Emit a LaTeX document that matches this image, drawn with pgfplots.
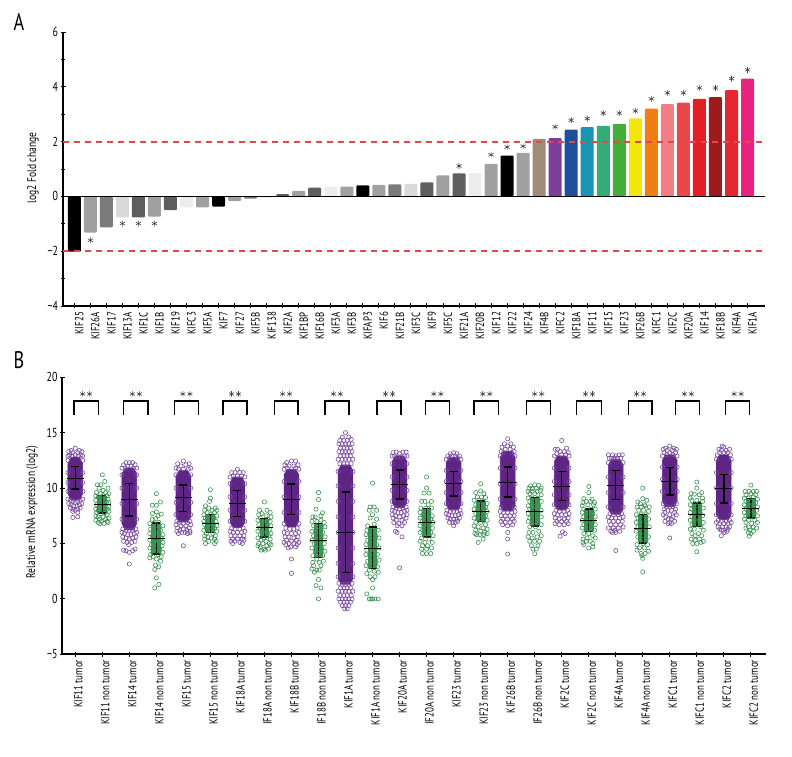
\documentclass[border=0pt]{standalone}
\usepackage{fontspec}
\setmainfont{PT Sans}[FakeStretch=0.76]
\usepackage{pgfplots}
\usepackage{pgfplotstable}
\pgfplotsset{compat=1.18}
\definecolor{gA}{HTML}{000000}\definecolor{gB}{HTML}{A0A0A0}\definecolor{gC}{HTML}{7A7A7A}
\definecolor{gD}{HTML}{D9D9D9}\definecolor{gE}{HTML}{5E5E5E}\definecolor{gF}{HTML}{ECECEC}
\definecolor{cT}{HTML}{A08A78}\definecolor{cU}{HTML}{7B3F98}\definecolor{cV}{HTML}{1F4E9C}
\definecolor{cW}{HTML}{1A94B4}\definecolor{cX}{HTML}{33AD76}\definecolor{cY}{HTML}{43AD3A}
\definecolor{cZ}{HTML}{F2E60C}\definecolor{cA}{HTML}{F07E14}\definecolor{cB}{HTML}{F07F85}
\definecolor{cC}{HTML}{E9474A}\definecolor{cD}{HTML}{E31E26}\definecolor{cE}{HTML}{9C1A1C}
\definecolor{cF}{HTML}{E5282F}\definecolor{cG}{HTML}{E8237F}
\definecolor{redline}{HTML}{DD4A4E}\definecolor{pur}{HTML}{5F2585}\definecolor{ped}{HTML}{7A4A9F}
\definecolor{gre}{HTML}{2F8C47}\definecolor{gco}{HTML}{3F9A57}
\newcommand\bb[3]{\addplot[ybar,bar width=13pt,bar shift=0pt,fill=#3,draw=none,rounded corners=1pt] coordinates {(#1,#2)};}
\newcommand\T[2]{\addplot[only marks,mark=o,mark size=2.1pt,mark options={draw=ped,line width=.6pt,fill=none}] table[x expr=\thisrowno{0}/33+#1,y index=1,row sep=\\]{#2};}
\newcommand\G[2]{\addplot[only marks,mark=o,mark size=2.1pt,mark options={draw=gre,line width=.55pt,fill=none}] table[x expr=\thisrowno{0}/33+#1,y index=1,row sep=\\]{#2};}
\newcommand\core[5]{\addplot[fill=pur,draw=pur,line width=.6pt] table[x expr=\thisrowno{0}/33+#1,y index=1,row sep=\\]{-5 #2\\-9 #3\\-9 #4\\-5 #5\\5 #5\\9 #4\\9 #3\\5 #2\\};}
\newcommand\gc[3]{\addplot[fill=gco,draw=none] table[x expr=\thisrowno{0}/33+#1,y index=1,row sep=\\]{-6 #2\\-6 #3\\6 #3\\6 #2\\};}
\newcommand\br[2]{\addplot[black,line width=1.3pt,line join=miter] coordinates {(#1,16.57)(#1,17.86)(#2,17.86)(#2,16.57)};}
\pgfplotstableread{
x m u l
0 10.9 11.95 9.9
1 8.5 9.35 7.75
2 8.95 10.4 7.5
3 5.45 6.85 4.05
4 9.15 10.3 7.9
5 6.8 7.6 6.0
6 8.6 9.8 7.45
7 6.45 7.25 5.6
8 9.0 10.35 7.6
9 5.27 6.81 3.74
10 6.0 9.64 2.38
11 4.55 6.48 2.75
12 10.33 11.65 9.0
13 6.87 8.17 5.6
14 10.4 11.5 9.3
15 7.92 8.83 7.0
16 10.55 11.9 9.2
17 7.9 9.16 6.57
18 10.18 11.5 8.9
19 7.08 8.13 6.09
20 10.27 11.57 8.98
21 6.36 7.6 5.06
22 10.6 11.84 9.37
23 7.63 8.67 6.54
24 9.97 11.24 8.67
25 8.17 9.07 7.3
}\stats
\pgfplotsset{every axis/.append style={scale only axis,tick style={black,line width=.9pt},
  tick align=outside,clip=false,
  yticklabel style={font=\fontsize{13}{13}\selectfont,xshift=1pt},
  xticklabel style={rotate=90,anchor=east,font=\fontsize{11.8}{11.8}\selectfont}}}
\begin{document}
\begin{tikzpicture}[x=1pt,y=1pt]
\path[use as bounding box] (0,0) rectangle (792,756);
\node[font=\fontsize{24}{24}\selectfont] at (19,734) {A};
\node[font=\fontsize{24}{24}\selectfont] at (19,396) {B};
\node[rotate=90,font=\fontsize{12.5}{12.5}\selectfont] at (33,588) {log2 Fold change};
\node[rotate=90,font=\fontsize{12.5}{12.5}\selectfont] at (32,244) {Relative mRNA expression (log2)};
% Panel A
\begin{axis}[at={(63pt,450pt)},anchor=south west,width=702pt,height=274pt,
  axis x line=bottom,axis y line=left,x axis line style={-,line width=1.2pt},y axis line style={-,line width=1.2pt},
  xmin=-0.705,xmax=43.09,ymin=-4,ymax=6,
  ytick={-4,-2,0,2,4,6},yticklabels={−4,−2,0,2,4,6},minor ytick={-3,-1,1,3,5},
  major tick length=5pt,minor tick length=3.5pt,
  xtick={0,...,42},xticklabels={KIF25,KIF26A,KIF17,KIF13A,KIF1C,KIF1B,KIF19,KIFC3,KIF5A,KIF7,KIF27,KIF5B,KIF138,KIF2A,KIF1BP,KIF16B,KIF3A,KIF3B,KIFAP3,KIF6,KIF21B,KIF3C,KIF9,KIF5C,KIF21A,KIF20B,KIF12,KIF22,KIF24,KIF4B,KIFC2,KIF18A,KIF11,KIF15,KIF23,KIF26B,KIFC1,KIF2C,KIF20A,KIF14,KIF18B,KIF4A,KIF1A},
  x tick label style={yshift=-5pt}]
\bb{0}{-2.02}{gA}\bb{1}{-1.32}{gB}\bb{2}{-1.13}{gC}\bb{3}{-0.77}{gD}\bb{4}{-0.77}{gE}\bb{5}{-0.74}{gB}\bb{6}{-0.5}{gE}\bb{7}{-0.4}{gF}\bb{8}{-0.4}{gB}\bb{9}{-0.37}{gA}\bb{10}{-0.17}{gB}\bb{11}{-0.08}{gC}\bb{12}{-0.04}{gD}
\bb{13}{0.08}{gE}\bb{14}{0.2}{gB}\bb{15}{0.32}{gE}\bb{16}{0.36}{gF}\bb{17}{0.36}{gB}\bb{18}{0.4}{gA}\bb{19}{0.42}{gB}\bb{20}{0.44}{gC}\bb{21}{0.46}{gD}\bb{22}{0.51}{gE}\bb{23}{0.77}{gB}\bb{24}{0.84}{gE}\bb{25}{0.85}{gF}\bb{26}{1.19}{gB}\bb{27}{1.49}{gA}\bb{28}{1.59}{gB}
\bb{29}{2.1}{cT}\bb{30}{2.13}{cU}\bb{31}{2.44}{cV}\bb{32}{2.53}{cW}\bb{33}{2.57}{cX}\bb{34}{2.65}{cY}\bb{35}{2.85}{cZ}\bb{36}{3.2}{cA}\bb{37}{3.37}{cB}\bb{38}{3.42}{cC}\bb{39}{3.56}{cD}\bb{40}{3.62}{cE}\bb{41}{3.88}{cF}\bb{42}{4.3}{cG}
\addplot[black,line width=1pt] coordinates {(-0.705,0)(43.09,0)};
\addplot[color=redline,line width=2pt,dash pattern=on 6pt off 5pt] coordinates {(-0.705,-2)(42.9,-2)};
\addplot[color=redline,line width=2pt,dash pattern=on 6pt off 5pt] coordinates {(-0.705,2)(42.9,2)};
\addplot[only marks,mark=asterisk,mark size=3pt,mark options={gE!70!black,line width=.6pt}] coordinates {(1,-1.6)(3,-0.99)(4,-0.99)(5,-0.99)(24,1.11)(26,1.52)(27,1.8)(28,1.83)(30,2.54)(31,2.78)(32,2.84)(33,3.04)(34,3.04)(35,3.12)(36,3.56)(37,3.78)(38,3.78)(39,3.96)(40,3.96)(41,4.3)(42,4.62)};
\end{axis}
% Panel B
\begin{axis}[at={(62.3pt,101.7pt)},anchor=south west,width=703.4pt,height=277pt,
  axis x line=bottom,axis y line=left,x axis line style={-,line width=1.7pt},y axis line style={-,line width=1.7pt},
  xmin=-0.481,xmax=25.55,ymin=-5,ymax=20,
  ytick={-5,0,5,10,15,20},yticklabels={−5,0,5,10,15,20},
  major tick length=4.5pt,
  xtick={0,...,25},xticklabels={KIF11 tumor,KIF11 non tumor,KIF14 tumor,KIF14 non tumor,KIF15 tumor,KIF15 non tumor,KIF18A tumor,IF18A non tumor,KIF18B tumor,IF18B non tumor,KIF1A tumor,KIF1A non tumor,KIF20A tumor,IF20A non tumor,KIF23 tumor,KIF23 non tumor,KIF26B tumor,IF26B non tumor,KIF2C tumor,KIF2C non tumor,KIF4A tumor,KIF4A non tumor,KIFC1 tumor,KIFC1 non tumor,KIFC2 tumor,KIFC2 non tumor},
  x tick label style={yshift=-3pt}]
\br{-0.05}{0.85}\br{1.79}{2.69}\br{3.66}{4.55}\br{5.47}{6.35}\br{7.36}{8.24}\br{9.24}{10.13}\br{11.17}{12.05}\br{12.95}{13.84}\br{14.75}{15.67}\br{16.69}{17.58}\br{18.56}{19.47}\br{20.47}{21.34}\br{22.22}{23.11}\br{24.07}{24.94}
\addplot[only marks,mark=asterisk,mark size=2.8pt,mark options={gE!70!black,line width=.6pt}] coordinates {(0.27,18.5)(0.53,18.5)(2.11,18.5)(2.37,18.5)(3.98,18.5)(4.24,18.5)(5.78,18.5)(6.04,18.5)(7.67,18.5)(7.93,18.5)(9.55,18.5)(9.81,18.5)(11.48,18.5)(11.74,18.5)(13.27,18.5)(13.53,18.5)(15.08,18.5)(15.34,18.5)(17.0,18.5)(17.26,18.5)(18.88,18.5)(19.14,18.5)(20.77,18.5)(21.03,18.5)(22.54,18.5)(22.8,18.5)(24.38,18.5)(24.64,18.5)};
% tumor columns: core and visible outer points
\core{0}{8.9}{9.5}{12.2}{12.8}
\T{0}{0 13.6\\-5 13.4\\5 13.4\\-8 13.3\\8 13.3\\-3 13.2\\3 13.2\\-7 13\\7 13\\-9 12.9\\9 12.9\\-4 12.9\\4 12.9\\0 13\\-9 12.5\\9 12.5\\-9 11.4\\9 11.4\\-9 10.5\\9 10.5\\-9 9.7\\9 9.7\\-9 9\\9 9\\-6 8.9\\6 8.9\\-3 8.8\\3 8.8\\0 8.7\\-8 8.6\\8 8.6\\-5 8.5\\5 8.5\\-2 8.4\\2 8.4\\-6 8.2\\6 8.2\\-3 8.1\\3 8.1\\0 8\\-3 7.9\\3 7.8\\-3 7.35\\3 7.4\\}
\core{2}{6.2}{6.8}{11.3}{11.8}
\T{2}{-4 12.3\\0 12.3\\4 12.3\\-7 12.1\\7 12.1\\-2 12\\2 12\\-9 11.8\\9 11.8\\-5 11.8\\5 11.8\\-9 11.2\\9 11.2\\-9 10\\9 10\\-9 8.6\\9 8.6\\-9 7.2\\9 7.2\\-8 6.3\\8 6.3\\-4 6.2\\4 6.2\\0 6.2\\-9 6\\9 6\\-6 5.9\\6 5.9\\-2 5.8\\2 5.8\\-8 5.6\\8 5.6\\-4 5.5\\4 5.5\\0 5.4\\-7 5.2\\7 5.2\\-3 5.1\\3 5.1\\-1 4.9\\-7 4.4\\-4 4.35\\0 4.2\\4 4.35\\7 4.5\\0 3.15\\}
\core{4}{6.9}{7.4}{11.1}{11.6}
\T{4}{0 12.45\\-7 12.2\\7 12.2\\-3 12\\3 12.1\\-9 11.8\\9 11.8\\-6 11.7\\0 11.7\\6 11.7\\-9 11.2\\9 11.2\\-9 10\\9 10\\-9 8.7\\9 8.7\\-9 7.6\\9 7.6\\-8 7\\8 7\\-5 6.9\\0 6.8\\5 6.9\\-9 6.7\\9 6.7\\-3 6.6\\3 6.6\\-7 6.4\\7 6.4\\0 6.3\\-4 6.2\\4 6.2\\-8 6.1\\8 6.1\\-2 6\\2 6\\-6 5.9\\5 5.9\\8 5.95\\0 4.8\\}
\core{6}{6.4}{6.9}{10.5}{11}
\T{6}{0 11.7\\-7 11.4\\-3 11.4\\3 11.4\\7 11.4\\-9 11\\9 11\\-5 11.1\\5 11.1\\0 11.1\\-9 10.4\\9 10.4\\-9 9.2\\9 9.2\\-9 8\\9 8\\-9 7\\9 7\\-7 6.4\\7 6.4\\-3 6.3\\3 6.3\\-9 6.1\\9 6.1\\-5 6\\0 6\\5 6\\-8 5.7\\8 5.7\\-3 5.7\\3 5.7\\-6 5.4\\0 5.4\\6 5.4\\-8 5.2\\-3 5.2\\3 5.1\\8 5.3\\-6 5\\6 5\\}
\core{8}{6.5}{7}{11.2}{11.7}
\T{8}{-6 12.3\\0 12.45\\5 12.45\\-8 12.1\\8 12.1\\-3 12\\3 12\\-9 11.7\\9 11.7\\-5 11.8\\5 11.8\\-9 10.6\\9 10.6\\-9 9.2\\9 9.2\\-9 7.8\\9 7.8\\-9 6.8\\9 6.8\\-7 6.4\\7 6.4\\-2 6.3\\3 6.3\\-9 6\\9 6\\-5 5.9\\0 5.9\\5 5.9\\-8 5.6\\8 5.6\\-3 5.6\\3 5.5\\-6 5.3\\6 5.3\\0 5.2\\-9 5.1\\9 5.1\\-3 5\\3 5\\-7 4.9\\7 4.9\\-1 4.7\\5 4.7\\-4 4.6\\0 3.6\\0 2.3\\}
\core{10}{1.3}{1.8}{11.6}{12.1}
\T{10}{0 15\\-4 14.6\\4 14.6\\-7 14.3\\-2 14.3\\2 14.3\\7 14.4\\-8 14\\-4 14\\0 14\\4 14\\8 14\\-6 13.6\\-2 13.6\\2 13.6\\6 13.6\\-8 13.3\\-4 13.3\\0 13.3\\4 13.3\\8 13.3\\-6 12.9\\-2 12.9\\2 12.9\\6 12.9\\-9 12.6\\-4 12.6\\0 12.6\\4 12.6\\9 12.6\\-7 12.2\\-2 12.2\\2 12.2\\7 12.2\\-9 11.5\\9 11.5\\-9 10.2\\9 10.2\\-9 8.8\\9 8.8\\-9 7.4\\9 7.4\\-9 6\\9 6\\-9 4.6\\9 4.6\\-9 3.2\\9 3.2\\-9 2\\9 2\\-8 1.4\\-4 1.3\\0 1.3\\4 1.3\\8 1.4\\-6 1\\-2 1\\2 1\\6 1\\-9 .7\\-4 .7\\0 .7\\4 .7\\9 .7\\-7 .3\\-2 .3\\2 .3\\7 .3\\-8 0\\-4 0\\0 0\\4 0\\8 0\\-6 -.3\\-2 -.3\\2 -.3\\6 -.3\\-4 -.6\\0 -.6\\4 -.6\\-1 -.9\\2 -.9\\}
\core{12}{8.2}{8.7}{12.4}{12.9}
\T{12}{-8 13.2\\-4 13.25\\0 13.15\\4 13.25\\8 13.25\\-9 12.9\\-6 12.9\\-2 12.8\\2 12.8\\6 12.9\\9 12.9\\-9 12.2\\9 12.2\\-9 11\\9 11\\-9 9.8\\9 9.8\\-9 8.8\\9 8.8\\-8 8.3\\8 8.3\\-4 8.2\\0 8.1\\4 8.2\\-9 8\\9 8\\-6 7.9\\6 7.9\\-2 7.8\\2 7.8\\-9 7.6\\9 7.6\\-5 7.5\\5 7.5\\-8 7.3\\0 7.4\\8 7.3\\-4 7.1\\3 7.1\\-7 6.9\\-1 6.8\\6 6.9\\-3 6.6\\3 6.6\\-5 6.1\\-3 6\\3 5.6\\0 2.8\\}
\core{14}{8}{8.5}{12.3}{12.8}
\T{14}{0 13.2\\-4 13.1\\4 13.1\\-7 12.9\\7 12.9\\-2 12.9\\2 12.9\\-9 12.6\\-5 12.7\\5 12.7\\9 12.6\\-9 11.6\\9 11.6\\-9 10.6\\9 10.6\\-9 9.6\\9 9.6\\-9 8.6\\9 8.6\\-8 8\\8 8\\-4 7.9\\0 7.9\\4 7.9\\-9 7.7\\9 7.7\\-6 7.6\\6 7.6\\-2 7.5\\2 7.5\\-7 7.3\\7 7.3\\-4 7.2\\0 7.2\\4 7.2\\-5 6.9\\-1 6.9\\2 6.9\\5 7\\0 6.6\\}
\core{16}{7.9}{8.4}{12.8}{13.3}
\T{16}{0 14.45\\-4 14\\4 14\\-7 13.7\\0 13.8\\7 13.7\\-3 13.5\\3 13.5\\-8 13.3\\8 13.3\\-5 13.2\\5 13.2\\-9 12.9\\9 12.9\\-9 11.8\\9 11.8\\-9 10.4\\9 10.4\\-9 9\\9 9\\-8 8.3\\8 8.3\\-9 7.9\\9 7.9\\-5 7.8\\0 7.8\\5 7.8\\-8 7.5\\8 7.5\\-3 7.5\\3 7.5\\-6 7.2\\0 7.2\\6 7.2\\-8 7\\8 7\\-3 6.9\\3 6.9\\-6 6.7\\6 6.7\\0 6.6\\0 6\\0 5.4\\0 4.05\\}
\core{18}{8}{8.5}{12.4}{12.9}
\T{18}{0 14.3\\-8 13.5\\-5 13.5\\6 13.6\\-2 13.3\\3 13.3\\8 13.2\\-6 13.1\\0 13\\5 13\\-9 12.9\\9 12.9\\-9 11.8\\9 11.8\\-9 10.6\\9 10.6\\-9 9.4\\9 9.4\\-9 8.5\\9 8.5\\-7 8\\7 8\\-3 7.9\\3 7.9\\-9 7.7\\9 7.7\\-5 7.6\\0 7.6\\5 7.6\\-8 7.3\\8 7.3\\-3 7.2\\3 7.2\\-6 7\\0 7\\6 7\\-8 6.8\\8 6.8\\-3 6.7\\3 6.7\\1 6.05\\-2 5.66\\4 5.9\\}
\core{20}{7.6}{8.1}{12.1}{12.6}
\T{20}{-9 13\\-4 13\\0 12.9\\4 13\\8 13\\-8 12.7\\-5 12.7\\-2 12.7\\2 12.7\\6 12.7\\-9 12.3\\9 12.3\\-9 11\\9 11\\-9 9.6\\9 9.6\\-9 8.3\\9 8.3\\-7 7.7\\7 7.7\\-3 7.6\\3 7.6\\-9 7.4\\9 7.4\\-5 7.3\\0 7.3\\5 7.3\\-8 7\\8 7\\-3 7\\3 7\\-6 6.7\\0 6.7\\6 6.7\\-9 6.4\\-3 6.4\\3 6.4\\9 6.5\\-6 6.1\\-1 6.2\\5 6.1\\-4 6\\0 6\\0 4.37\\}
\core{22}{8.3}{8.8}{12.5}{13}
\T{22}{-5 13.6\\0 13.8\\5 13.6\\-8 13.5\\8 13.5\\-3 13.4\\3 13.4\\-7 13.2\\0 13.2\\7 13.2\\-9 12.9\\9 12.9\\-4 13\\4 13\\-9 11.9\\9 11.9\\-9 10.8\\9 10.8\\-9 9.7\\9 9.7\\-8 8.6\\8 8.6\\-4 8.3\\0 8.3\\4 8.3\\-7 8.1\\7 8.1\\-2 8\\2 8\\-6 7.8\\6 7.8\\-8 7.6\\0 7.6\\8 7.6\\-5 7.4\\4 7.4\\-2 7.2\\2 7.2\\-6 7\\6 7\\-2 6.8\\2 6.8\\0 6.9\\0 5.5\\}
\core{24}{7.1}{7.6}{12.5}{13}
\T{24}{-2 13.8\\0 13.7\\-6 13.5\\7 13.5\\-3 13.4\\3 13.4\\-5 13.2\\0 13.2\\5 13.2\\-8 13\\8 13\\-9 12.6\\9 12.6\\-9 11.4\\9 11.4\\-9 10\\9 10\\-9 8.6\\9 8.6\\-9 7.6\\9 7.6\\-7 7.1\\7 7.1\\-3 7\\3 7\\-9 6.9\\9 6.9\\-5 6.8\\0 6.8\\5 6.8\\-7 6.5\\7 6.5\\-2 6.5\\3 6.5\\-5 6.3\\5 6.3\\-1 6.2\\4 6.1\\1 6\\-3 6.2\\-3 5.7\\}
% non-tumor columns
\gc{1}{7.75}{9.3}
\G{1}{0 11.2\\3 10.6\\-6 10.3\\-2 10.3\\7 10\\-4 10\\1 9.8\\-7 9.6\\4 9.6\\8 9.5\\-2 9.5\\-8 9.3\\6 9.3\\1 9.3\\-5 9.2\\3 9.1\\7 9\\-8 8.9\\-3 8.9\\8 8.7\\5 8.7\\-7 8.5\\8 8.3\\-8 8.1\\6 8.1\\-5 8\\8 7.9\\-7 7.8\\3 7.8\\-2 7.7\\6 7.6\\-8 7.5\\-5 7.4\\1 7.4\\8 7.3\\-3 7.2\\4 7.2\\-8 7.1\\-1 7\\6 7\\-5 6.9\\2 6.8\\-3 6.8\\7 6.9\\}
\gc{3}{4}{6.8}
\G{3}{0 9.5\\-5 8.45\\0 8.45\\5 8.75\\0 7.85\\-5 7.7\\6 7.65\\2 7.5\\-5 7.2\\-1 7.25\\-8 6.8\\-3 6.8\\3 6.9\\8 6.6\\-7 6.3\\-1 6.3\\5 6.2\\-8 5.9\\2 5.9\\8 5.8\\-5 5.6\\6 5.5\\-8 5.3\\-2 5.2\\3 5.2\\8 5.1\\-6 4.9\\7 4.8\\-8 4.6\\0 4.6\\4 4.5\\-4 4.3\\8 4.2\\-7 4\\2 4\\-4 3.8\\6 3.8\\-8 3.7\\0 3.6\\5 3.4\\-1 3.05\\3 2.9\\-2 2.65\\0 1.9\\-2 1\\3 1.3\\}
\gc{5}{6}{7.6}
\G{5}{0 9.85\\0 9.1\\-1 8.8\\-6 8.4\\6 8.2\\-2 8.2\\2 8\\-7 8\\8 8\\-4 7.8\\5 7.8\\-8 7.6\\0 7.6\\8 7.5\\-6 7.3\\4 7.3\\-8 7\\7 7\\-3 7\\-7 6.7\\2 6.7\\8 6.6\\-5 6.4\\5 6.4\\-8 6.2\\-1 6.2\\8 6.1\\-5 5.9\\3 5.9\\-7 5.7\\6 5.7\\-3 5.6\\1 5.5\\-7 5.4\\5 5.4\\-2 5.2\\7 5.2\\-6 5\\5 5\\}
\gc{7}{5.6}{7.25}
\G{7}{0 8.75\\-6 8\\3 8\\7 7.8\\-3 7.7\\-7 7.6\\2 7.5\\8 7.4\\-5 7.3\\4 7.2\\-8 7.1\\-2 7\\7 7\\-7 6.7\\3 6.7\\8 6.6\\-5 6.4\\-1 6.3\\6 6.3\\-8 6.1\\2 6\\8 5.9\\-5 5.8\\5 5.7\\-8 5.5\\-1 5.5\\7 5.4\\-4 5.3\\2 5.2\\-7 5\\6 5\\-2 5\\-8 4.8\\3 4.8\\-5 4.6\\8 4.9\\-1 4.5\\1 4.4\\-4 4.4\\5 4.5\\}
\gc{9}{3.8}{6.8}
\G{9}{0 9.6\\0 8.97\\-3 8.1\\5 7.77\\3 7.5\\-4 7.4\\-7 7.4\\-8 7\\-2 7\\3 7.1\\7 6.9\\-6 6.6\\1 6.5\\8 6.5\\-8 6.1\\-3 6.1\\5 6\\-6 5.7\\0 5.7\\8 5.6\\-8 5.3\\3 5.3\\-5 5\\7 5\\-1 4.9\\-8 4.6\\4 4.6\\-4 4.3\\8 4.3\\0 4.1\\-7 3.9\\5 3.9\\-2 3.6\\-7 3.3\\6 3.4\\1 3.3\\-6 3\\3 3\\-8 2.7\\-5 2.4\\-2 2.6\\1 2.6\\0 1.75\\-3 1.2\\3 1\\0 0\\}
\gc{11}{2.8}{6.4}
\G{11}{0 10.45\\-3 8.3\\-4 8\\2 8.3\\5 8\\0 7.6\\-3 7.3\\5 7.2\\-6 6.6\\2 6.75\\-7 6.2\\-1 6.2\\7 6.2\\-8 5.8\\-3 5.8\\4 5.7\\8 5.5\\-6 5.3\\0 5.3\\-8 4.9\\5 4.9\\-3 4.7\\8 4.6\\-7 4.4\\2 4.4\\-8 4\\-3 4\\6 4\\0 3.7\\8 3.5\\-6 3.4\\4 3.3\\-8 3\\-1 3\\6 2.9\\-4 2.6\\2 2.5\\-7 2.3\\7 2.4\\-3 2\\3 2\\0 1.75\\0 1\\-7 .45\\-4 0\\-2 0\\0 0\\3 0\\7 0\\}
\gc{13}{5.6}{8.2}
\G{13}{0 11\\0 10\\-3 9.55\\3 9.55\\-6 8.8\\-2 8.8\\6 8.8\\2 8.5\\-7 8.2\\-1 8.2\\6 8.2\\-8 7.8\\3 7.8\\-4 7.6\\7 7.5\\-8 7.3\\0 7.2\\5 7.2\\-5 7\\8 6.9\\-2 6.7\\-8 6.6\\3 6.6\\7 6.4\\-5 6.2\\0 6.2\\-8 6\\5 6\\-2 5.7\\8 5.7\\-6 5.5\\3 5.4\\-8 5.2\\-2 5.1\\7 5.1\\-5 4.8\\1 4.8\\6 4.6\\-6 4.5\\0 4.5\\-5 4.1\\0 4.07\\5 4.1\\}
\gc{15}{7}{8.8}
\G{15}{0 10.4\\-6 9.6\\0 9.75\\4 9.5\\-4 9.2\\1 9.2\\6 9.15\\-8 8.9\\-2 8.9\\3 8.8\\8 8.6\\-6 8.5\\0 8.4\\6 8.3\\-8 8.1\\-3 8.1\\3 8\\8 7.9\\-6 7.7\\1 7.6\\6 7.5\\-8 7.3\\-3 7.3\\3 7.1\\8 7.1\\-6 6.9\\0 6.9\\6 6.7\\-8 6.6\\-3 6.5\\3 6.4\\-6 6.2\\8 6.3\\0 6.1\\5 6\\-5 5.8\\-1 5.8\\8 5.9\\-7 5.9\\4 5.8\\3 5.4\\-3 5.1\\}
\gc{17}{6.6}{9.1}
\G{17}{0 10.3\\-5 10.2\\5 10.25\\-7 10\\8 10\\-3 9.95\\2 10\\-8 9.7\\-3 9.7\\3 9.7\\7 9.8\\-6 9.5\\0 9.5\\8 9.4\\-8 9.1\\-3 9.1\\4 9.1\\-6 8.8\\1 8.8\\8 8.8\\-8 8.4\\-2 8.4\\5 8.4\\-6 8.1\\1 8\\8 8\\-8 7.7\\-3 7.7\\4 7.7\\-6 7.3\\0 7.3\\8 7.4\\-8 7\\4 7\\-3 6.8\\8 6.7\\-6 6.5\\1 6.5\\-7 6\\5 6.1\\-2 6\\8 5.7\\-8 5.6\\-3 5.5\\3 5.6\\-6 5.2\\0 5.2\\6 5.2\\-4 4.8\\4 4.8\\-2 4.5\\2 4.5\\0 4.07\\}
\gc{19}{6.1}{8.1}
\G{19}{0 10.15\\0 9.6\\-6 9.05\\4 9\\-3 8.8\\2 8.8\\-7 8.7\\7 8.7\\-8 8.4\\-1 8.5\\6 8.5\\-6 8.1\\3 8.1\\8 8.1\\-8 7.8\\-2 7.8\\5 7.7\\-6 7.4\\1 7.4\\8 7.4\\-8 7.1\\-2 7\\5 7\\-6 6.7\\0 6.6\\8 6.7\\-8 6.4\\3 6.3\\-3 6.2\\7 6.2\\-6 5.9\\0 5.9\\5 5.7\\-2 5.5\\-7 5.4\\8 5.5\\-7 5.1\\-3 5.2\\2 5.2\\5 5\\-6 4.9\\0 4.6\\5 4.7\\}
\gc{21}{5.1}{7.6}
\G{21}{0 10\\0 9.05\\-6 8.75\\5 8.9\\-3 8.6\\2 8.5\\-7 8.3\\-2 8.3\\3 8.4\\8 8.3\\-5 8\\1 8\\7 7.9\\-8 7.6\\-2 7.6\\4 7.6\\-6 7.3\\0 7.2\\7 7.2\\-8 6.9\\-3 6.9\\4 6.8\\-6 6.5\\0 6.4\\8 6.5\\-8 6.1\\4 6.1\\-3 5.9\\-6 5.6\\1 5.7\\7 5.6\\-3 5.3\\4 5.3\\-7 4.9\\0 5\\6 4.9\\-4 4.6\\2 4.6\\-7 4.4\\7 4.3\\-2 4.1\\3 4.1\\-1 3.9\\0 3.66\\0 2.44\\}
\gc{23}{6.5}{8.7}
\G{23}{0 10.54\\0 10\\-7 9.5\\6 9.6\\-3 9.45\\3 9.4\\-8 9.1\\7 9.1\\-6 8.9\\0 8.9\\7 8.8\\-8 8.5\\-3 8.5\\3 8.6\\-6 8.1\\1 8.1\\8 8.2\\-8 7.8\\-3 7.8\\4 7.8\\-6 7.4\\0 7.4\\7 7.5\\-8 7.1\\-3 7.1\\3 7.1\\8 6.9\\-6 6.7\\0 6.7\\5 6.5\\-8 6.3\\-3 6.3\\8 6.2\\-6 5.9\\2 5.9\\-2 5.7\\6 5.7\\-7 5.4\\-2 5.3\\3 5.4\\8 5.2\\-5 5\\5 5.1\\0 5\\0 4.25\\}
\gc{25}{7.3}{9.1}
\G{25}{0 10.27\\-7 9.7\\-2 9.7\\3 9.7\\7 9.7\\-6 9.4\\0 9.5\\6 9.4\\-8 9.1\\-3 9.1\\3 9.2\\8 9\\-6 8.8\\0 8.8\\6 8.7\\-8 8.5\\-3 8.5\\3 8.4\\8 8.3\\-6 8.1\\1 8.1\\7 8\\-8 7.8\\-3 7.8\\4 7.7\\-6 7.5\\0 7.4\\8 7.5\\-8 7.2\\-3 7.1\\5 7.1\\-6 6.9\\1 6.8\\8 6.9\\-3 6.5\\3 6.5\\-6 6.4\\7 6.4\\-1 6.2\\-3 6\\3 6.1\\0 5.9\\-2 5.66\\}
\addplot[only marks,mark=-,mark size=8.5pt,mark options={black,line width=.7pt},error bars/.cd,y dir=both,y explicit,error bar style={black,line width=1.5pt},error mark options={black,rotate=90,mark size=4pt,line width=1.5pt}] table[x=x,y=m,y error plus expr=\thisrow{u}-\thisrow{m},y error minus expr=\thisrow{m}-\thisrow{l}]{\stats};
\end{axis}
\end{tikzpicture}
\end{document}
